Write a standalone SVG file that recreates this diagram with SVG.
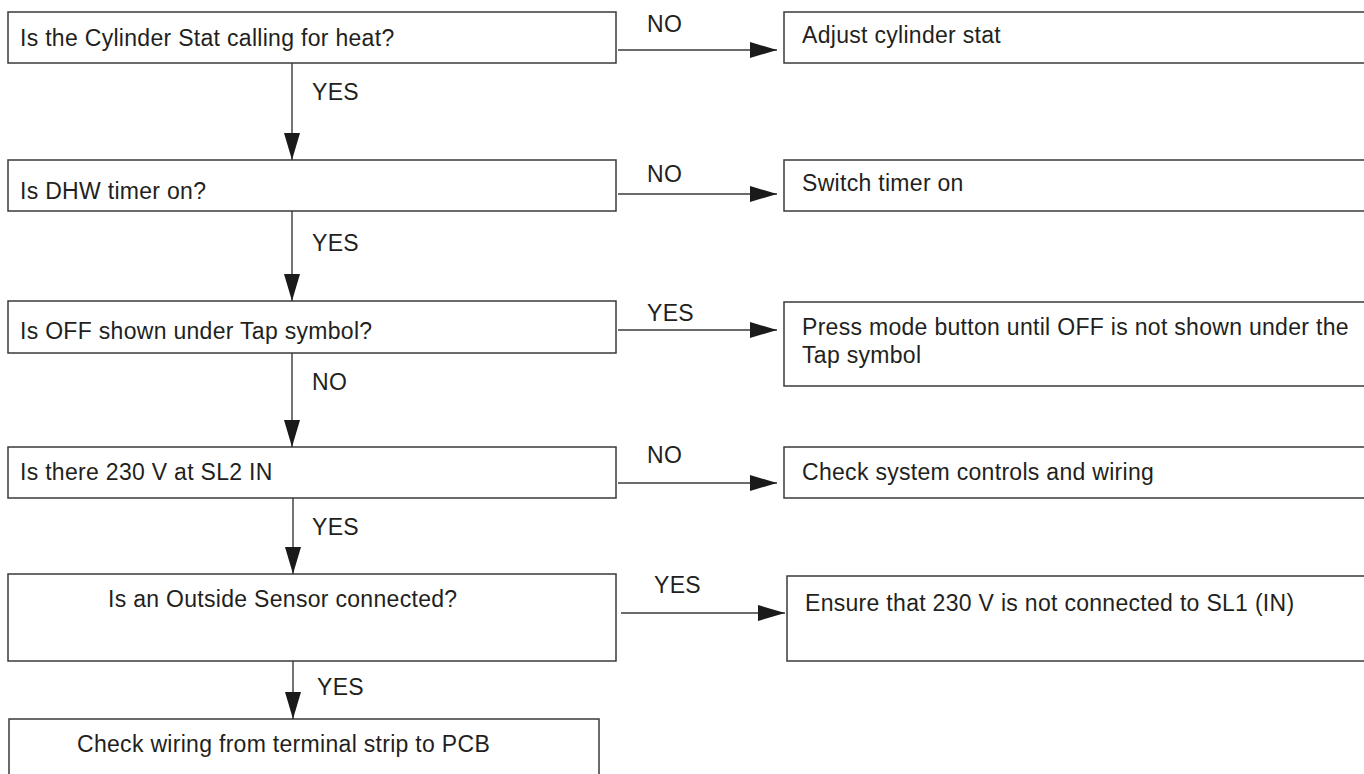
<svg xmlns="http://www.w3.org/2000/svg" width="1364" height="774" viewBox="0 0 1364 774">
<style>
  .box { fill: #ffffff; stroke: #3a3a3a; stroke-width: 1.5; }
  .txt { font-family: "Liberation Sans", Arial, sans-serif; font-size: 23px; fill: #231f20; letter-spacing: 0.3px; }
  .conn { stroke: #3a3a3a; stroke-width: 1.4; fill: none; marker-end: url(#arrow); }
</style>
<defs>
  <marker id="arrow" markerUnits="userSpaceOnUse" markerWidth="28" markerHeight="16" refX="27" refY="8" orient="auto">
    <path d="M0,0 L27,8 L0,16 Z" fill="#1a1a1a"/>
  </marker>
</defs>
<rect width="1364" height="774" fill="#ffffff"/>

<g id="q1"><rect class="box" x="8" y="12" width="608" height="51"/><text class="txt" x="20" y="46">Is the Cylinder Stat calling for heat?</text></g>
<g id="a1"><rect class="box" x="784" y="12" width="590" height="51"/><text class="txt" x="802" y="43">Adjust cylinder stat</text></g>

<g id="q2"><rect class="box" x="8" y="160" width="608" height="51"/><text class="txt" x="20" y="199">Is DHW timer on?</text></g>
<g id="a2"><rect class="box" x="784" y="160" width="590" height="51"/><text class="txt" x="802" y="191">Switch timer on</text></g>

<g id="q3"><rect class="box" x="8" y="301" width="608" height="52"/><text class="txt" x="20" y="339">Is OFF shown under Tap symbol?</text></g>
<g id="a3"><rect class="box" x="784" y="302" width="590" height="84"/><text class="txt" x="802" y="335">Press mode button until OFF is not shown under the</text><text class="txt" x="802" y="363">Tap symbol</text></g>

<g id="q4"><rect class="box" x="8" y="447" width="608" height="51"/><text class="txt" x="20" y="480">Is there 230 V at SL2 IN</text></g>
<g id="a4"><rect class="box" x="784" y="447" width="590" height="51"/><text class="txt" x="802" y="480">Check system controls and wiring</text></g>

<g id="q5"><rect class="box" x="8" y="574" width="608" height="87"/><text class="txt" x="108" y="607">Is an Outside Sensor connected?</text></g>
<g id="a5"><rect class="box" x="787" y="576" width="590" height="85"/><text class="txt" x="805" y="611">Ensure that 230 V is not connected to SL1 (IN)</text></g>

<g id="q6"><rect class="box" x="9" y="719" width="590" height="70"/><text class="txt" x="77" y="752">Check wiring from terminal strip to PCB</text></g>

<g id="connectors">
  <line class="conn" x1="292" y1="63" x2="292" y2="160"/>
  <line class="conn" x1="618" y1="50" x2="777" y2="50"/>
  <line class="conn" x1="292" y1="211" x2="292" y2="301"/>
  <line class="conn" x1="618" y1="194" x2="777" y2="194"/>
  <line class="conn" x1="292" y1="353" x2="292" y2="447"/>
  <line class="conn" x1="618" y1="330" x2="777" y2="330"/>
  <line class="conn" x1="293" y1="498" x2="293" y2="574"/>
  <line class="conn" x1="618" y1="483" x2="777" y2="483"/>
  <line class="conn" x1="293" y1="661" x2="293" y2="719"/>
  <line class="conn" x1="621" y1="613" x2="785" y2="613"/>
  <text class="txt" x="312" y="100">YES</text>
  <text class="txt" x="312" y="251">YES</text>
  <text class="txt" x="312" y="390">NO</text>
  <text class="txt" x="312" y="535">YES</text>
  <text class="txt" x="317" y="695">YES</text>
  <text class="txt" x="647" y="32">NO</text>
  <text class="txt" x="647" y="182">NO</text>
  <text class="txt" x="647" y="321">YES</text>
  <text class="txt" x="647" y="463">NO</text>
  <text class="txt" x="654" y="593">YES</text>
</g>
</svg>
